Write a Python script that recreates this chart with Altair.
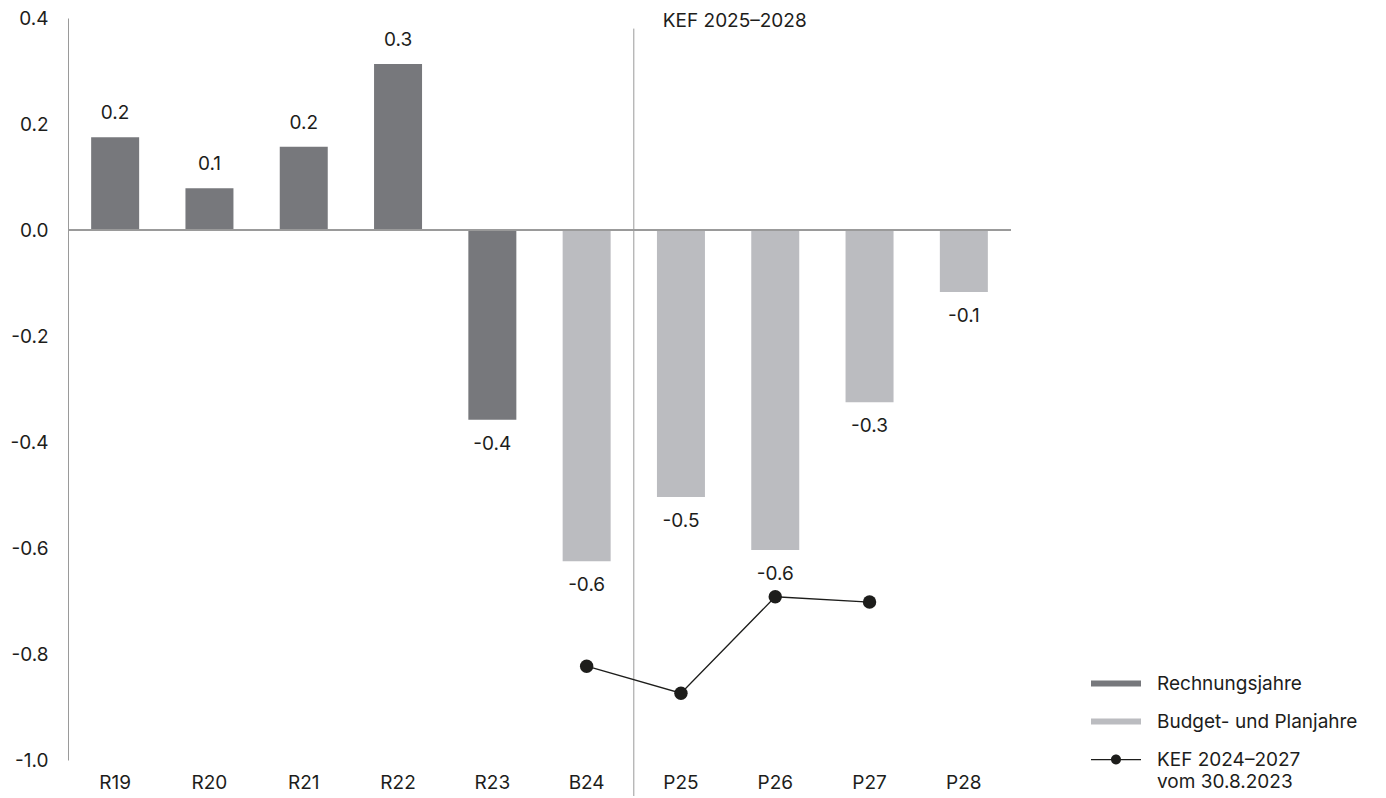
import altair as alt
import pandas as pd

# ---- data ----
categories = ["R19", "R20", "R21", "R22", "R23", "B24", "P25", "P26", "P27", "P28"]
values = [0.175, 0.079, 0.157, 0.313, -0.358, -0.625, -0.504, -0.604, -0.325, -0.117]
types = ["Rechnungsjahre"] * 5 + ["Budget- und Planjahre"] * 5
kef_categories = ["B24", "P25", "P26", "P27"]
kef_values = [-0.823, -0.874, -0.692, -0.702]
y_ticks = [-1.0, -0.8, -0.6, -0.4, -0.2, 0.0, 0.2, 0.4]
legend_labels = ["Rechnungsjahre", "Budget- und Planjahre", "KEF 2024–2027|vom 30.8.2023"]
period_start = "P25"
period_label = "KEF 2025–2028"

DARK = "#77787c"
LIGHT = "#bbbcc0"
BLACK = "#1d1d1b"
AXIS = "#9a9a9a"
FONT = "Inter"
FS = 19

bars_df = pd.DataFrame({
    "cat": categories,
    "val": values,
    "typ": types,
    "lbl": [f"{v:.1f}" for v in values],
})
kef_df = pd.DataFrame({"cat": kef_categories, "val": kef_values})
period_df = pd.DataFrame({"cat": [period_start], "txt": [period_label]})
legend_df = pd.DataFrame({"typ": legend_labels, "cat": [categories[0]] * 3, "val": [0.0] * 3})

x_scale = alt.Scale(domain=categories, paddingInner=0, paddingOuter=0)
y_scale = alt.Scale(domain=[-1.0, 0.4], nice=False, zero=False)

x_enc = alt.X(
    "cat:N", sort=categories, scale=x_scale,
    axis=alt.Axis(title=None, domain=False, ticks=False, labelAngle=0, labelPadding=13,
                  labelFontSize=FS, labelColor=BLACK, labelFont=FONT, grid=False),
)
y_enc = alt.Y(
    "val:Q", scale=y_scale,
    axis=alt.Axis(values=y_ticks, title=None, ticks=False, grid=False, domainColor=AXIS,
                  labelPadding=20, labelFontSize=FS, labelColor=BLACK, labelFont=FONT,
                  labelExpr="replace(format(datum.value, '.1f'), '\u2212', '-')"),
)

bars = alt.Chart(bars_df).mark_bar(size=48).encode(
    x=x_enc,
    y=y_enc,
    color=alt.condition(alt.datum.typ == "Rechnungsjahre", alt.value(DARK), alt.value(LIGHT)),
)

zero_rule = alt.Chart(bars_df).mark_rule(color=AXIS, strokeWidth=1).encode(y=alt.datum(0))

pos_text = alt.Chart(bars_df).transform_filter(alt.datum.val >= 0).mark_text(
    dy=-24, fontSize=FS, font=FONT, color=BLACK, baseline="middle"
).encode(x=alt.X("cat:N", sort=categories), y=alt.Y("val:Q"), text="lbl:N")

neg_text = alt.Chart(bars_df).transform_filter(alt.datum.val < 0).mark_text(
    dy=24, fontSize=FS, font=FONT, color=BLACK, baseline="middle"
).encode(x=alt.X("cat:N", sort=categories), y=alt.Y("val:Q"), text="lbl:N")

period_rule = alt.Chart(period_df).mark_rule(color=AXIS, strokeWidth=1, clip=False).encode(
    x=alt.X("cat:N", sort=categories, bandPosition=0),
    y=alt.datum(0.38),
    y2=alt.datum(-1.08),
)
period_text = alt.Chart(period_df).mark_text(
    dx=29, align="left", baseline="middle", fontSize=FS, font=FONT, color=BLACK
).encode(
    x=alt.X("cat:N", sort=categories, bandPosition=0),
    y=alt.datum(0.395),
    text="txt:N",
)

kef_line = alt.Chart(kef_df).mark_line(color=BLACK, strokeWidth=1.3).encode(
    x=alt.X("cat:N", sort=categories), y=alt.Y("val:Q")
)
kef_points = alt.Chart(kef_df).mark_circle(color=BLACK, size=180, opacity=1).encode(
    x=alt.X("cat:N", sort=categories), y=alt.Y("val:Q")
)

# legend symbols: unit scale = sqrt(625)/2 = 12.5 px, so +-2 -> 50 px wide
bar_path = "M-2,-0.24H2V0.24H-2Z"
line_path = ("M-2,-0.05H2V0.05H-2Z "
             "M0.4,0A0.4,0.4 0 1,1 -0.4,0A0.4,0.4 0 1,1 0.4,0Z")

legend_cfg = dict(
    title=None, orient="none", legendX=1035.5, legendY=653,
    symbolSize=625, symbolOpacity=1, symbolStrokeWidth=0,
    labelFontSize=FS, labelFont=FONT, labelColor=BLACK, labelOffset=28.5,
    rowPadding=15, labelLimit=400,
    labelExpr="split(datum.label, '|')",
)

legend_layer = alt.Chart(legend_df).mark_point(filled=True, opacity=0).encode(
    x=alt.X("cat:N", sort=categories),
    y=alt.Y("val:Q"),
    color=alt.Color("typ:N", scale=alt.Scale(domain=legend_labels, range=[DARK, LIGHT, BLACK]),
                    legend=alt.Legend(**legend_cfg)),
    shape=alt.Shape("typ:N", scale=alt.Scale(domain=legend_labels, range=[bar_path, bar_path, line_path]),
                    legend=alt.Legend(**legend_cfg)),
)

chart = alt.layer(
    bars, zero_rule, period_rule, pos_text, neg_text, period_text, kef_line, kef_points, legend_layer
).properties(
    width=943, height=742,
    autosize=alt.AutoSizeParams(type="none"),
    padding={"left": 60, "top": 10, "right": 360, "bottom": 36},
).configure(
    font=FONT,
    view=alt.ViewConfig(stroke=None),
    style={"guide-label": {"lineHeight": 22}},
)

chart.save("out.html", embed_options={"renderer": "svg", "actions": False})
